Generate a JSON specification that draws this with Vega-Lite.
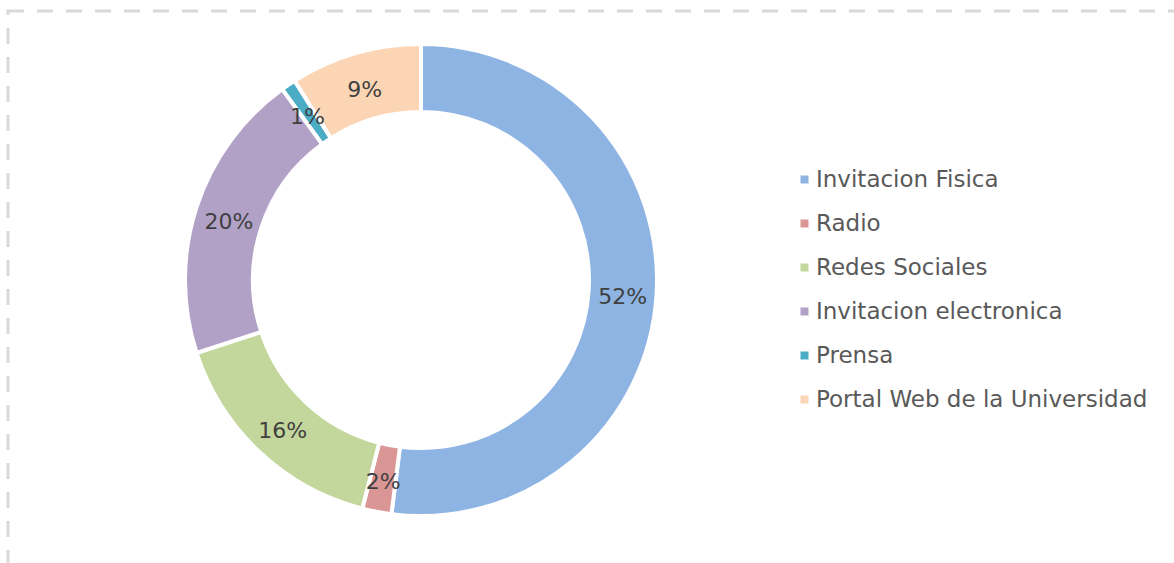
{
  "$schema": "https://vega.github.io/schema/vega-lite/v6.json",
  "width": 1200,
  "height": 600,
  "autosize": {"type": "none"},
  "padding": {"left": 8, "top": 11, "right": 0, "bottom": 0},
  "background": "white",
  "config": {
    "view": {"stroke": "#d9d9d9", "strokeWidth": 3, "strokeDash": [16, 13]},
    "font": "DejaVu Sans"
  },
  "data": {
    "values": [
      {"idx": 1, "medio": "Invitacion Fisica", "share": 0.52},
      {"idx": 2, "medio": "Radio", "share": 0.02},
      {"idx": 3, "medio": "Redes Sociales", "share": 0.16},
      {"idx": 4, "medio": "Invitacion electronica", "share": 0.20},
      {"idx": 5, "medio": "Prensa", "share": 0.01},
      {"idx": 6, "medio": "Portal Web de la Universidad", "share": 0.09}
    ]
  },
  "encoding": {
    "theta": {"field": "share", "type": "quantitative", "stack": true},
    "order": {"field": "idx", "type": "quantitative"},
    "x": {"value": 413},
    "y": {"value": 269}
  },
  "layer": [
    {
      "mark": {"type": "arc", "innerRadius": 168, "outerRadius": 236, "stroke": "white", "strokeWidth": 4},
      "encoding": {
        "color": {
          "field": "medio",
          "type": "nominal",
          "sort": ["Invitacion Fisica", "Radio", "Redes Sociales", "Invitacion electronica", "Prensa", "Portal Web de la Universidad"],
          "scale": {
            "domain": ["Invitacion Fisica", "Radio", "Redes Sociales", "Invitacion electronica", "Prensa", "Portal Web de la Universidad"],
            "range": ["#8EB4E3", "#D99694", "#C3D69B", "#B2A1C7", "#4BACC6", "#FCD5B5"]
          },
          "legend": {
            "title": null,
            "orient": "none",
            "legendX": 785,
            "legendY": 157,
            "symbolType": "square",
            "symbolSize": 64,
            "symbolStrokeWidth": 0,
            "labelFontSize": 23,
            "labelColor": "#595959",
            "labelFont": "DejaVu Sans",
            "labelOffset": 0,
            "rowPadding": 20,
            "labelLimit": 500
          }
        }
      }
    },
    {
      "mark": {"type": "text", "radius": 202, "fontSize": 22, "color": "#404040", "font": "DejaVu Sans", "dy": 4},
      "encoding": {
        "text": {"field": "share", "type": "quantitative", "format": ".0%"},
        "detail": {"field": "medio", "type": "nominal"}
      }
    }
  ]
}
